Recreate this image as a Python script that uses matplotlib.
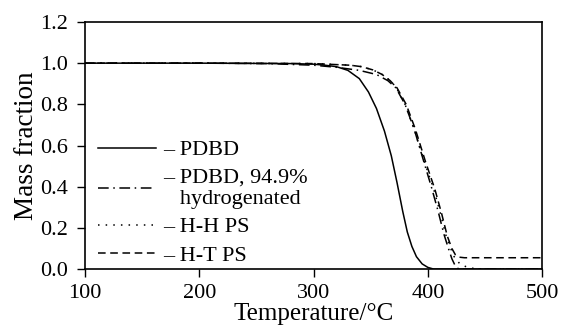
import matplotlib
matplotlib.use('Agg')
import matplotlib.pyplot as plt
import numpy as np

plt.rcParams['font.family'] = 'Liberation Serif'

# values (temperature in C, mass fraction)
t_pdbd = [100, 200, 280, 300, 310, 320, 330, 340, 348, 355, 362, 368, 373, 378, 382, 386, 390, 395, 400, 405, 500]
m_pdbd = [1.0, 1.0, 0.998, 0.995, 0.99, 0.983, 0.965, 0.925, 0.86, 0.78, 0.67, 0.55, 0.42, 0.28, 0.18, 0.11, 0.06, 0.025, 0.008, 0.0, 0.0]

t_hyd = [100, 200, 260, 300, 320, 340, 355, 365, 372, 380, 388, 396, 403, 409, 414, 418, 421, 424, 427, 440, 500]
m_hyd = [1.0, 1.0, 0.998, 0.99, 0.98, 0.965, 0.945, 0.915, 0.88, 0.80, 0.68, 0.53, 0.40, 0.28, 0.17, 0.10, 0.05, 0.015, 0.0, 0.0, 0.0]

t_hh = [100, 200, 300, 332, 342, 352, 360, 367, 372, 380, 388, 397, 405, 411, 416, 420, 423, 428, 434, 440, 450, 500]
m_hh = [1.0, 1.0, 0.998, 0.99, 0.983, 0.967, 0.945, 0.915, 0.885, 0.80, 0.68, 0.52, 0.39, 0.27, 0.16, 0.10, 0.06, 0.025, 0.01, 0.003, 0.0, 0.0]

t_ht = [100, 200, 300, 332, 342, 352, 360, 367, 373, 381, 389, 398, 406, 412, 417, 421, 424, 427, 432, 500]
m_ht = [1.0, 1.0, 0.998, 0.99, 0.983, 0.967, 0.945, 0.915, 0.88, 0.80, 0.68, 0.52, 0.39, 0.27, 0.16, 0.10, 0.07, 0.058, 0.055, 0.055]

labels = ['– PDBD', '– PDBD, 94.9%\n   hydrogenated', '– H-H PS', '– H-T PS']

fig = plt.figure(figsize=(5.63, 3.33), dpi=100)
ax = fig.add_axes([0.151, 0.192, 0.812, 0.742])

ax.plot(t_pdbd, m_pdbd, color='black', lw=1.1, ls='-', label=labels[0])
ax.plot(t_hyd, m_hyd, color='black', lw=1.1, ls=(0, (7, 3, 1, 3)), label=labels[1])
ax.plot(t_hh, m_hh, color='black', lw=1.1, ls=(0, (1, 4)), label=labels[2])
ax.plot(t_ht, m_ht, color='black', lw=1.1, ls=(0, (5, 3)), label=labels[3])

ax.set_xlim(100, 500)
ax.set_ylim(0, 1.2)
ax.set_xticks(np.arange(100, 501, 100))
ax.set_yticks(np.arange(0, 1.21, 0.2))
ax.set_yticklabels(['%.1f' % v for v in np.arange(0, 1.21, 0.2)])
ax.tick_params(labelsize=16, direction='out', length=6, width=1, top=False, right=False)
ax.tick_params(axis='x', pad=5)
ax.tick_params(axis='y', pad=6)
for s in ax.spines.values():
    s.set_linewidth(1.2)

ax.set_xlabel('Temperature/°C', fontsize=18, labelpad=0)
ax.set_ylabel('Mass fraction', fontsize=19.5, labelpad=1)

leg = ax.legend(loc='lower left', bbox_to_anchor=(0.0, -0.04), frameon=False,
                fontsize=16, handlelength=2.6, handletextpad=0.3, labelspacing=0.35,
                borderaxespad=0.2)

fig.savefig('out.png')
